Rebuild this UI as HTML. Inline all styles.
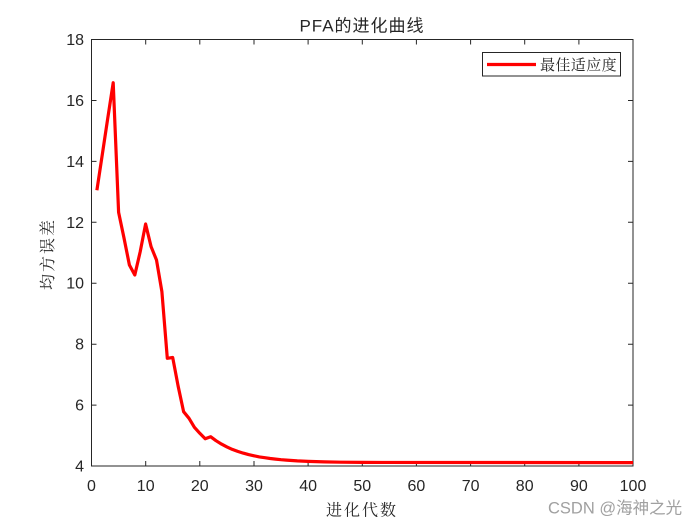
<!DOCTYPE html>
<html><head><meta charset="utf-8"><style>
html,body{margin:0;padding:0;background:#fff;}
svg{display:block;}
text{font-family:"Liberation Sans","Noto Sans CJK SC",sans-serif;fill:#262626;}
.cj{font-family:"Liberation Serif","Noto Serif CJK SC",serif;}
</style></head><body>
<svg width="700" height="525" viewBox="0 0 700 525" xmlns="http://www.w3.org/2000/svg">
<rect x="0" y="0" width="700" height="525" fill="#fff"/>
<rect x="91.5" y="39.5" width="541.5" height="426.5" fill="#fff" stroke="#262626" stroke-width="1"/>
<g stroke="#262626" stroke-width="1">
<path d="M145.7 466v-5M199.8 466v-5M254 466v-5M308.1 466v-5M362.3 466v-5M416.4 466v-5M470.6 466v-5M524.7 466v-5M578.9 466v-5"/>
<path d="M145.7 39.5v5M199.8 39.5v5M254 39.5v5M308.1 39.5v5M362.3 39.5v5M416.4 39.5v5M470.6 39.5v5M524.7 39.5v5M578.9 39.5v5"/>
<path d="M91.5 405.1h5M91.5 344.2h5M91.5 283.2h5M91.5 222.3h5M91.5 161.4h5M91.5 100.5h5"/>
<path d="M633 405.1h-5M633 344.2h-5M633 283.2h-5M633 222.3h-5M633 161.4h-5M633 100.5h-5"/>
</g>
<g font-size="16" text-anchor="end">
<text x="84" y="471.5">4</text>
<text x="84" y="410.5">6</text>
<text x="84" y="349.7">8</text>
<text x="84" y="288.7">10</text>
<text x="84" y="227.8">12</text>
<text x="84" y="166.9">14</text>
<text x="84" y="106">16</text>
<text x="84" y="45">18</text>
</g>
<g font-size="16" text-anchor="middle">
<text x="91.5" y="491">0</text>
<text x="145.7" y="491">10</text>
<text x="199.8" y="491">20</text>
<text x="254" y="491">30</text>
<text x="308.1" y="491">40</text>
<text x="362.3" y="491">50</text>
<text x="416.4" y="491">60</text>
<text x="470.6" y="491">70</text>
<text x="524.7" y="491">80</text>
<text x="578.9" y="491">90</text>
<text x="633" y="491">100</text>
</g>
<text x="362" y="31.5" font-size="17" text-anchor="middle" letter-spacing="1">PFA的进化曲线</text>
<text class="cj" x="362" y="515.5" font-size="16" text-anchor="middle" letter-spacing="2">进化代数</text>
<text class="cj" transform="translate(53,254) rotate(-90)" font-size="16" text-anchor="middle" letter-spacing="2">均方误差</text>
<polyline fill="none" stroke="#ff0000" stroke-width="3.2" stroke-linejoin="round" points="96.9,190.3 102.3,154.5 107.7,118.6 113.2,82.7 118.6,212.3 124,238 129.4,265 134.8,275 140.2,251.7 145.6,224 151.1,246.7 156.5,260 161.9,291.7 167.3,358.3 172.7,357.5 178.1,386 183.6,411.7 189,418.3 194.4,427.3 199.8,433.3 205.2,438.7 210.6,436.7 216,440.7 221.5,444.1 226.9,446.9 232.3,449.4 237.7,451.4 243.1,453.1 248.5,454.6 254,455.8 259.4,456.9 264.8,457.7 270.2,458.5 275.6,459.1 281,459.7 286.4,460.1 297.3,460.9 308.1,461.4 324.3,461.9 340.6,462.2 362.3,462.4 633,462.6"/>
<rect x="482.5" y="52.5" width="138" height="23.5" fill="#fff" stroke="#262626" stroke-width="1"/>
<line x1="487" y1="64.5" x2="536" y2="64.5" stroke="#ff0000" stroke-width="3.2"/>
<text class="cj" x="540" y="70" font-size="15" letter-spacing="0.4">最佳适应度</text>
<text x="548" y="513.5" font-size="16.5" style="fill:#a0a0a0">CSDN @海神之光</text>
</svg>
</body></html>
